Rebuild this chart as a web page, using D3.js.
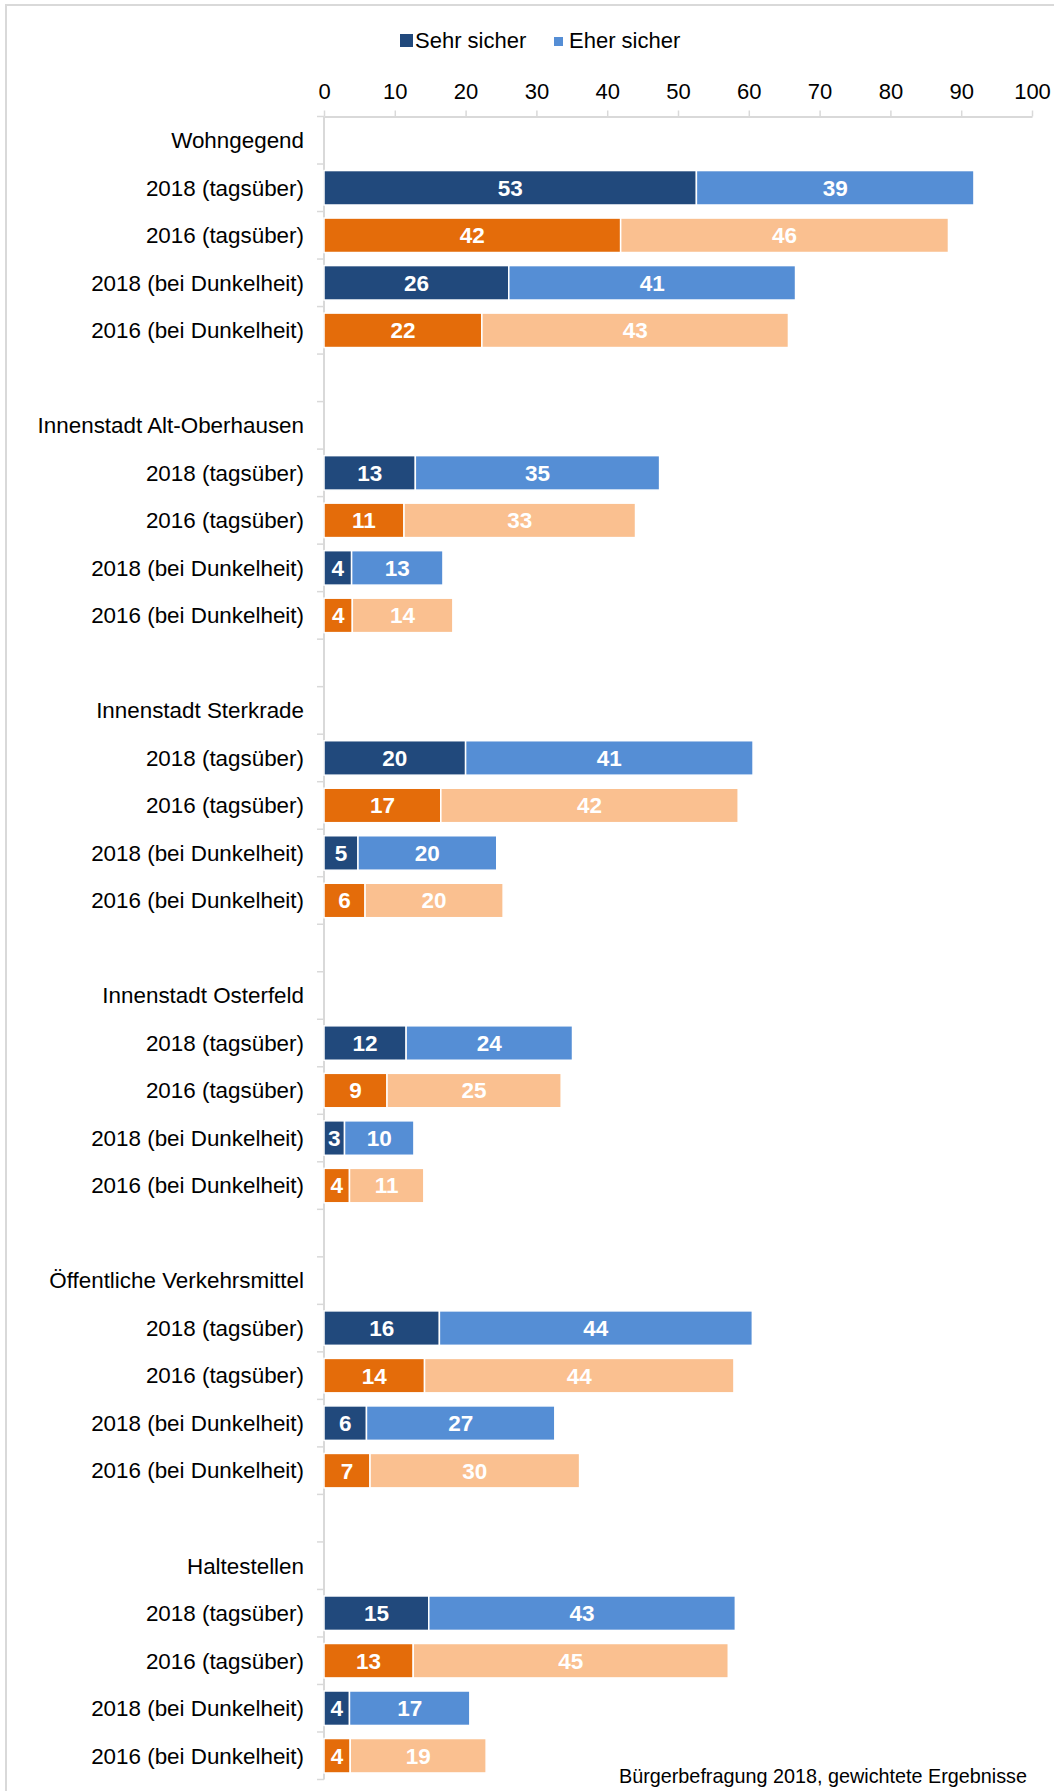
<!DOCTYPE html>
<html>
<head>
<meta charset="utf-8">
<script src="https://cdn.jsdelivr.net/npm/d3@7"></script>
<style>
  body { margin: 0; background: #fff; }
  svg { display: block; font-family: "Liberation Sans", Arial, sans-serif; }
</style>
</head>
<body>
<svg id="chart" width="1054" height="1791"></svg>
<script>
// categories
const groups = [
  "Wohngegend",
  "Innenstadt Alt-Oberhausen",
  "Innenstadt Sterkrade",
  "Innenstadt Osterfeld",
  "Öffentliche Verkehrsmittel",
  "Haltestellen"
];
const periods = [
  "2018 (tagsüber)",
  "2016 (tagsüber)",
  "2018 (bei Dunkelheit)",
  "2016 (bei Dunkelheit)"
];
const seriesNames = ["Sehr sicher", "Eher sicher"];
const ticks = [0, 10, 20, 30, 40, 50, 60, 70, 80, 90, 100];

// values per group, one entry per period (percent)
const sehrSicher = [
  [52.6, 41.9, 26.1, 22.3],
  [12.9, 11.3, 3.9, 4.0],
  [20.0, 16.5, 4.8, 5.8],
  [11.6, 8.9, 2.9, 3.6],
  [16.3, 14.2, 6.0, 6.5],
  [14.8, 12.6, 3.6, 3.7]
];
const eherSicher = [
  [39.2, 46.3, 40.5, 43.3],
  [34.5, 32.7, 12.9, 14.2],
  [40.6, 42.0, 19.6, 19.5],
  [23.5, 24.6, 9.8, 10.5],
  [44.2, 43.7, 26.6, 29.6],
  [43.3, 44.5, 17.0, 19.2]
];

const colors2018 = ["#21497c", "#558ed5"];
const colors2016 = ["#e46c0a", "#fac090"];

const svg = d3.select("#chart");

// rows: header, 4 bars, spacer (no spacer after the last group)
const rows = [];
groups.forEach((g, gi) => {
  rows.push({ id: `h${gi}`, label: g, header: true });
  periods.forEach((p, pi) => {
    rows.push({
      id: `b${gi}-${pi}`,
      label: p,
      is2018: p.startsWith("2018"),
      vals: [sehrSicher[gi][pi], eherSicher[gi][pi]]
    });
  });
  if (gi < groups.length - 1) rows.push({ id: `s${gi}`, label: "", spacer: true });
});

const x = d3.scaleLinear().domain([0, 100]).range([324, 1032]);
const y = d3.scaleBand()
  .domain(rows.map(d => d.id))
  .range([116.5, 1779.5])
  .paddingInner(0.275)
  .paddingOuter(0.1375);

// outer frame (only top and left edges visible)
svg.append("rect")
  .attr("x", 6).attr("y", 5)
  .attr("width", 1100).attr("height", 1900)
  .attr("fill", "none")
  .attr("stroke", "#d9d9d9")
  .attr("stroke-width", 2);

// legend
const legend = svg.append("g").attr("font-size", 22).attr("fill", "#000");
legend.append("rect").attr("x", 400).attr("y", 34).attr("width", 13).attr("height", 13).attr("fill", colors2018[0]);
legend.append("text").attr("x", 415).attr("y", 47.5).text(seriesNames[0]);
legend.append("rect").attr("x", 554).attr("y", 37).attr("width", 9).attr("height", 9).attr("fill", colors2018[1]);
legend.append("text").attr("x", 569).attr("y", 47.5).text(seriesNames[1]);

// value axis at the top
const xAxis = svg.append("g")
  .attr("transform", "translate(0,116.5)")
  .call(d3.axisTop(x).tickValues(ticks).tickSize(6).tickPadding(12).tickSizeOuter(0));
xAxis.select(".domain").attr("stroke", "#d9d9d9").attr("stroke-width", 2);
xAxis.selectAll(".tick line").attr("stroke", "#d9d9d9").attr("stroke-width", 1.5);
xAxis.selectAll(".tick text")
  .attr("font-size", 22)
  .attr("font-family", "Liberation Sans, Arial, sans-serif")
  .attr("fill", "#000");

// category axis (vertical line with boundary ticks)
const step = y.step();
const boundaries = d3.range(rows.length + 1).map(i => 116.5 + i * step);
svg.append("line")
  .attr("x1", x(0)).attr("x2", x(0))
  .attr("y1", 116.5).attr("y2", boundaries[boundaries.length - 1])
  .attr("stroke", "#d9d9d9").attr("stroke-width", 2);
svg.append("g").selectAll("line")
  .data(boundaries)
  .join("line")
  .attr("x1", x(0) - 7).attr("x2", x(0))
  .attr("y1", d => d).attr("y2", d => d)
  .attr("stroke", "#d9d9d9").attr("stroke-width", 1.5);

// category labels
svg.append("g")
  .attr("font-size", 22.4)
  .attr("text-anchor", "end")
  .selectAll("text")
  .data(rows.filter(d => !d.spacer))
  .join("text")
  .attr("x", 304)
  .attr("y", d => y(d.id) + y.bandwidth() / 2)
  .attr("dy", "0.35em")
  .attr("fill", "#000")
  .text(d => d.label);

// stacked bars
const barRows = rows.filter(d => d.vals);
const segs = [];
barRows.forEach(r => {
  let x0 = 0;
  r.vals.forEach((v, i) => {
    segs.push({
      row: r,
      x0: x0,
      x1: x0 + v,
      v: v,
      color: (r.is2018 ? colors2018 : colors2016)[i]
    });
    x0 += v;
  });
});

svg.append("g")
  .selectAll("rect")
  .data(segs)
  .join("rect")
  .attr("x", d => x(d.x0))
  .attr("y", d => y(d.row.id))
  .attr("width", d => x(d.x1) - x(d.x0))
  .attr("height", y.bandwidth())
  .attr("fill", d => d.color)
  .attr("stroke", "#fff")
  .attr("stroke-width", 1.5);

svg.append("g")
  .attr("font-size", 22.5)
  .attr("font-weight", "bold")
  .attr("text-anchor", "middle")
  .attr("fill", "#fff")
  .selectAll("text")
  .data(segs)
  .join("text")
  .attr("x", d => (x(d.x0) + x(d.x1)) / 2)
  .attr("y", d => y(d.row.id) + y.bandwidth() / 2)
  .attr("dy", "0.35em")
  .text(d => Math.round(d.v));

// source note
svg.append("text")
  .attr("x", 1027)
  .attr("y", 1783)
  .attr("text-anchor", "end")
  .attr("font-size", 19.8)
  .attr("fill", "#000")
  .text("Bürgerbefragung 2018, gewichtete Ergebnisse");
</script>
</body>
</html>
